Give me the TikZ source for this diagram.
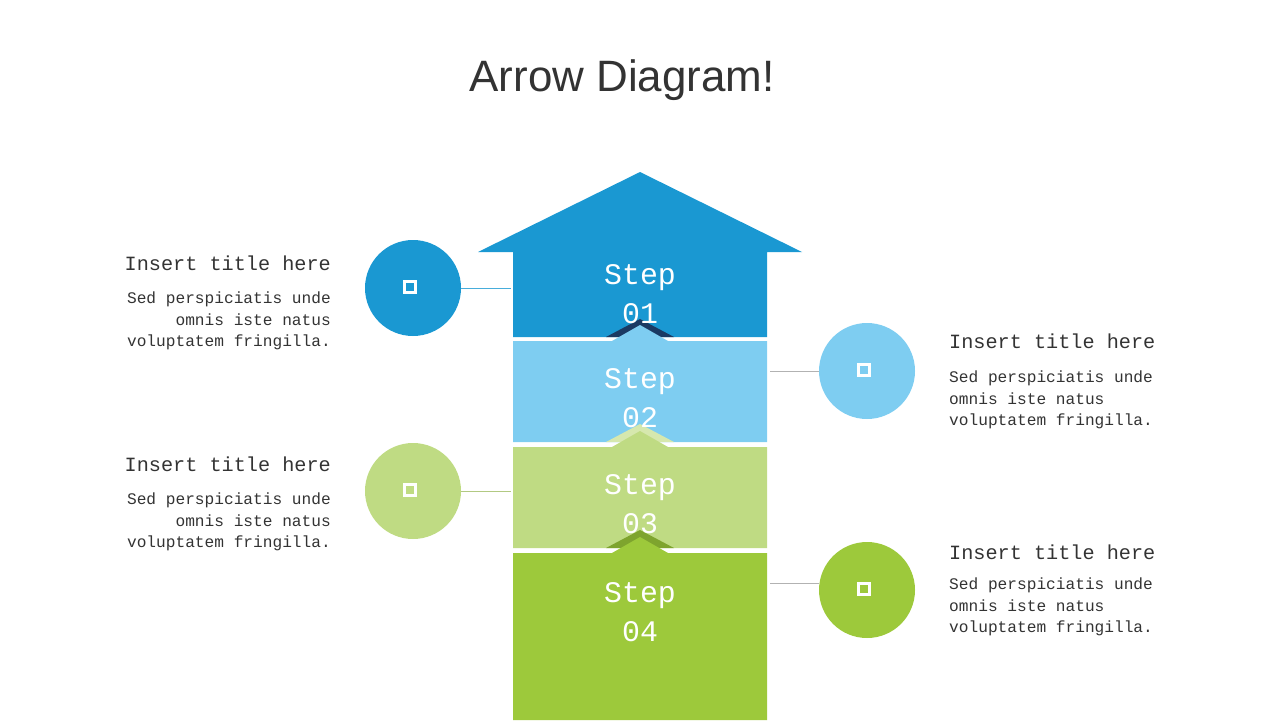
\documentclass[tikz,border=0pt]{standalone}
\usepackage{fontspec}
\setmainfont{Liberation Sans}
\newfontfamily\monofont{Liberation Mono}
\usetikzlibrary{positioning}
\definecolor{cBlue}{HTML}{1A98D2}
\definecolor{cLightBlue}{HTML}{7ECDF1}
\definecolor{cLightGreen}{HTML}{BFDB83}
\definecolor{cGreen}{HTML}{9DC93B}
\definecolor{cNavy}{HTML}{1B3A63}
\definecolor{cPale}{HTML}{D6E8AE}
\definecolor{cOlive}{HTML}{7EA42E}
\definecolor{cText}{HTML}{333333}
\begin{document}
\begin{tikzpicture}[x=0.02cm, y=-0.02cm,
    dot/.style={circle, minimum size=96*0.02cm, inner sep=0pt},
    icon/.style={draw=white, line width=1.6pt, minimum size=11*0.02cm, inner sep=0pt},
    steptext/.style={text=white, font=\monofont\fontsize{17}{22}\selectfont, align=center},
    ttl/.style={text=cText, font=\monofont\fontsize{11.5}{14}\selectfont},
    body/.style={text=cText, font=\monofont\fontsize{9.2}{12}\selectfont},
    link/.style={line width=0.5pt}]
  \useasboundingbox (0,0) rectangle (1280,720);
  % Title
  \node[text=cText, font=\fontsize{25}{30}\selectfont] (title) at (622,80) {Arrow Diagram!};
  % Steps
  \fill[cBlue] (640,172) -- (802,252) -- (767,252) -- (767,337) -- (513,337) -- (513,252) -- (478,252) -- cycle;
  \fill[cNavy] (606,337) -- (640,319) -- (674,337) -- cycle;
  \fill[cLightBlue] (513,442) -- (513,341) -- (612,341) -- (640,325) -- (668,341) -- (767,341) -- (767,442) -- cycle;
  \fill[cPale] (606,442) -- (640,424) -- (674,442) -- cycle;
  \fill[cLightGreen] (513,548) -- (513,447) -- (612,447) -- (640,431) -- (668,447) -- (767,447) -- (767,548) -- cycle;
  \fill[cOlive] (606,548) -- (640,530) -- (674,548) -- cycle;
  \fill[cGreen] (513,720) -- (513,553) -- (612,553) -- (640,537) -- (668,553) -- (767,553) -- (767,720) -- cycle;
  \node[steptext] (s1) at (640,294) {Step\\01};
  \node[steptext] (s2) at (640,398) {Step\\02};
  \node[steptext] (s3) at (640,504) {Step\\03};
  \node[steptext] (s4) at (640,612) {Step\\04};
  % Circles
  \node[dot, fill=cBlue] (c1) at (413,288) {};
  \node[dot, fill=cLightBlue] (c2) at (867,371) {};
  \node[dot, fill=cLightGreen] (c3) at (413,491) {};
  \node[dot, fill=cGreen] (c4) at (867,590) {};
  \foreach \c in {c1,c2,c3,c4}
    \node[icon] at ([xshift=-3*0.02cm, yshift=1*0.02cm]\c) {};
  % Connectors
  \coordinate (e1) at (511,288);
  \coordinate (e2) at (770,371);
  \coordinate (e3) at (511,491);
  \coordinate (e4) at (770,583);
  \draw[link, cBlue!80] (c1) -- (e1);
  \draw[link, gray!60] (c2.west |- e2) -- (e2);
  \draw[link, cLightGreen!80!gray] (c3) -- (e3);
  \draw[link, gray!60] (c4.west |- e4) -- (e4);
  % Texts left
  \node[ttl, anchor=east] (t1) at (337,263) {Insert title here};
  \node[body, anchor=north east, align=right] (b1) at (337,286) {Sed perspiciatis unde\\omnis iste natus\\voluptatem fringilla.};
  \node[ttl, anchor=east] (t3) at (337,464) {Insert title here};
  \node[body, anchor=north east, align=right] (b3) at (337,487) {Sed perspiciatis unde\\omnis iste natus\\voluptatem fringilla.};
  % Texts right
  \node[ttl, anchor=west] (t2) at (943,341) {Insert title here};
  \node[body, anchor=north west, align=left] (b2) at (943,365) {Sed perspiciatis unde\\omnis iste natus\\voluptatem fringilla.};
  \node[ttl, anchor=west] (t4) at (943,552) {Insert title here};
  \node[body, anchor=north west, align=left] (b4) at (943,572) {Sed perspiciatis unde\\omnis iste natus\\voluptatem fringilla.};
\end{tikzpicture}
\end{document}
